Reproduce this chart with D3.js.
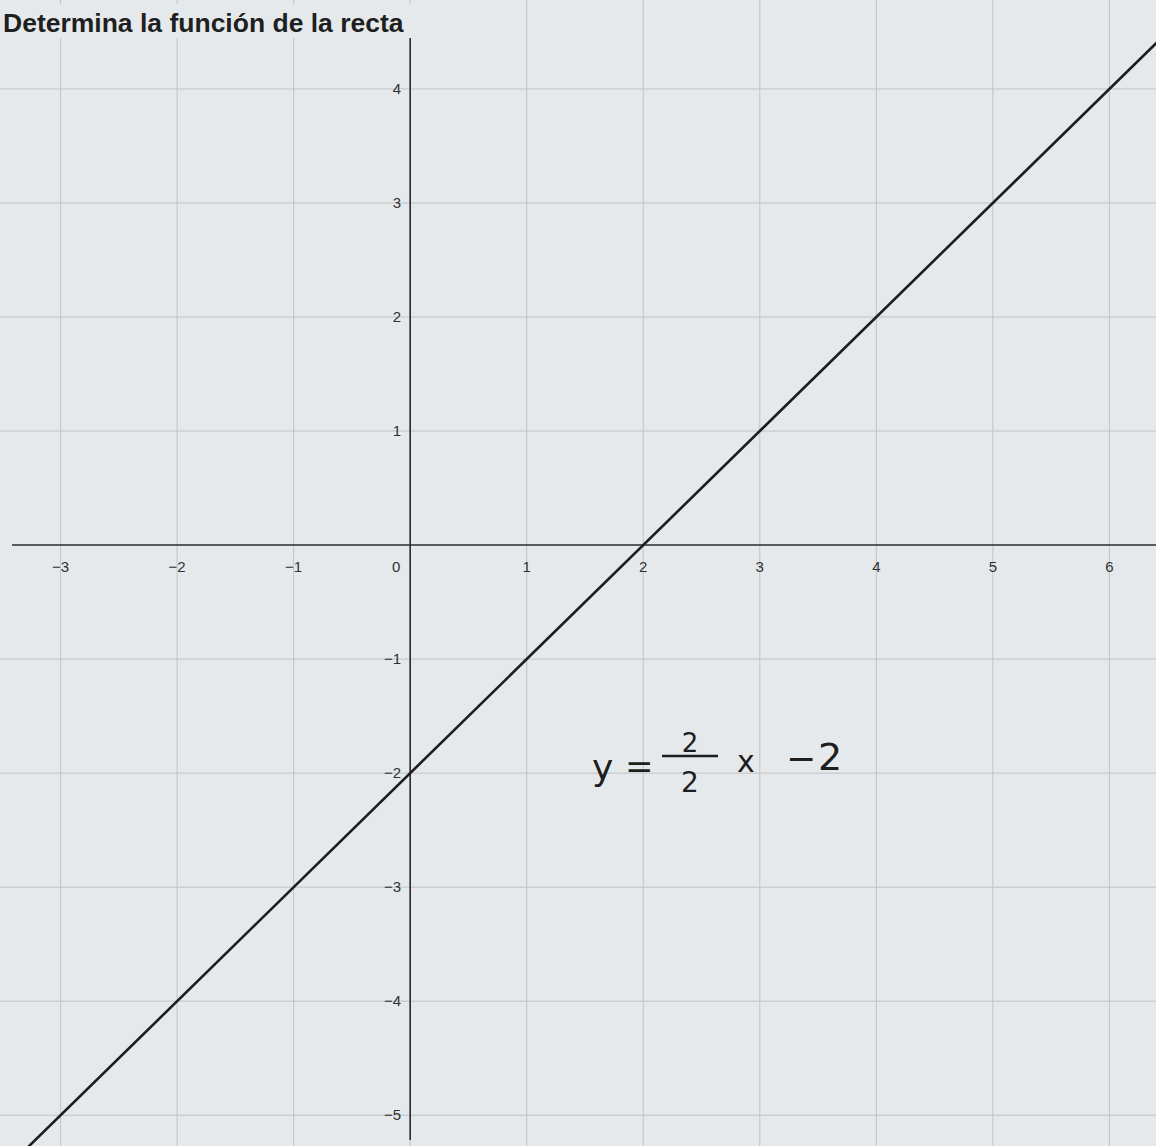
<!DOCTYPE html>
<html>
<head>
<meta charset="utf-8">
<script src="https://cdn.jsdelivr.net/npm/d3@7"></script>
<style>
  body { margin: 0; background: #e6e9ec; }
  svg { display: block; }
</style>
</head>
<body>
<div id="chart"></div>
<script>
// tick values read from the sheet
const xTicks = [-3, -2, -1, 0, 1, 2, 3, 4, 5, 6];
const yTicks = [-5, -4, -3, -2, -1, 1, 2, 3, 4];
// line endpoints (y = x - 2)
const lineX = [-3.6, 6.5];
const lineY = [-5.6, 4.5];
const title = "Determina la función de la recta";

const width = 1156, height = 1146;

const svg = d3.select("#chart")
  .append("svg")
  .attr("width", width)
  .attr("height", height);

// x: 0 at 410px, ~116.5px per unit
const x = d3.scaleLinear()
  .domain([-3.52, 6.4])
  .range([0, width]);
// y: 0 at ~545px, ~114px per unit
const y = d3.scaleLinear()
  .domain([4.78, -5.27])
  .range([0, height]);

// grid lines
svg.append("g")
  .selectAll("line")
  .data(xTicks)
  .enter()
    .append("line")
    .attr("x1", (d) => x(d))
    .attr("x2", (d) => x(d))
    .attr("y1", 0)
    .attr("y2", height)
    .style("stroke", "#bfc3c6")
    .style("stroke-width", 1);

svg.append("g")
  .selectAll("line")
  .data(yTicks)
  .enter()
    .append("line")
    .attr("x1", 0)
    .attr("x2", width)
    .attr("y1", (d) => y(d))
    .attr("y2", (d) => y(d))
    .style("stroke", "#bfc3c6")
    .style("stroke-width", 1);

// axes
svg.append("line")
  .attr("x1", 12).attr("x2", width)
  .attr("y1", y(0)).attr("y2", y(0))
  .style("stroke", "#2a2c2e")
  .style("stroke-width", 1.6);

svg.append("line")
  .attr("x1", x(0)).attr("x2", x(0))
  .attr("y1", 30).attr("y2", height - 6)
  .style("stroke", "#2a2c2e")
  .style("stroke-width", 1.6);

// x tick labels
svg.append("g")
  .selectAll("text")
  .data(xTicks)
  .enter()
    .append("text")
    .attr("x", (d) => d === 0 ? x(d) - 14 : x(d))
    .attr("y", y(0) + 27)
    .attr("text-anchor", "middle")
    .style("font-family", "Liberation Sans, Arial, sans-serif")
    .style("font-size", "15px")
    .style("fill", "#2f3133")
    .text((d) => d < 0 ? "\u2212" + Math.abs(d) : d);

// y tick labels
svg.append("g")
  .selectAll("text")
  .data(yTicks)
  .enter()
    .append("text")
    .attr("x", x(0) - 9)
    .attr("y", (d) => y(d) + 5)
    .attr("text-anchor", "end")
    .style("font-family", "Liberation Sans, Arial, sans-serif")
    .style("font-size", "15px")
    .style("fill", "#2f3133")
    .text((d) => d < 0 ? "\u2212" + Math.abs(d) : d);

// the line
const pts = lineX.map((d, i) => [d, lineY[i]]);
svg.append("path")
  .datum(pts)
  .attr("d", d3.line().x((d) => x(d[0])).y((d) => y(d[1])))
  .style("fill", "none")
  .style("stroke", "#1c1d1f")
  .style("stroke-width", 2.6);

// handwritten equation
const hand = svg.append("g")
  .style("font-family", "DejaVu Sans, sans-serif")
  .style("fill", "#1d1e20");

hand.append("text").attr("x", 592).attr("y", 780)
  .style("font-size", "36px").text("y");
hand.append("text").attr("x", 625).attr("y", 778)
  .style("font-size", "34px").text("=");
hand.append("line")
  .attr("x1", 662).attr("x2", 718).attr("y1", 756).attr("y2", 756)
  .style("stroke", "#1d1e20").style("stroke-width", 2.5);
hand.append("text").attr("x", 690).attr("y", 752).attr("text-anchor", "middle")
  .style("font-size", "26px").text("2");
hand.append("text").attr("x", 690).attr("y", 792).attr("text-anchor", "middle")
  .style("font-size", "28px").text("2");
hand.append("text").attr("x", 737).attr("y", 772)
  .style("font-size", "30px").text("x");
hand.append("text").attr("x", 786).attr("y", 771)
  .style("font-size", "36px").text("\u2212");
hand.append("text").attr("x", 818).attr("y", 770)
  .style("font-size", "38px").text("2");

// title
svg.append("rect")
  .attr("x", 0).attr("y", 4).attr("width", 414).attr("height", 34)
  .style("fill", "#e6e9ec");
svg.append("text")
  .attr("x", 3).attr("y", 32)
  .style("font-family", "Liberation Sans, Arial, sans-serif")
  .style("font-weight", "bold")
  .style("font-size", "26.5px")
  .style("fill", "#1e1f21")
  .text(title);
</script>
</body>
</html>
